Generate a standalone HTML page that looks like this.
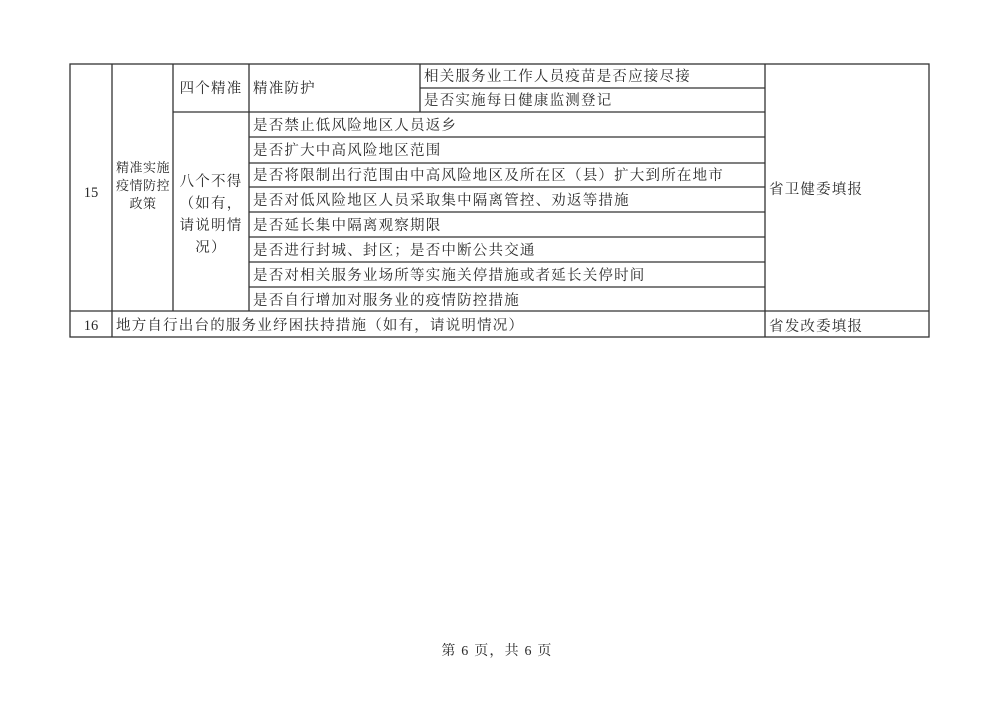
<!DOCTYPE html>
<html><head><meta charset="utf-8"><style>
html,body{margin:0;padding:0;background:#fff;width:1000px;height:707px;overflow:hidden}
svg text{font-family:"Liberation Serif","Noto Serif CJK SC","Noto Sans CJK SC",serif;font-size:14.5px;fill:#2a2a2a;letter-spacing:1.2px}
</style></head><body>
<svg width="1000" height="707" viewBox="0 0 1000 707" xmlns="http://www.w3.org/2000/svg">
<g stroke="#333" stroke-width="1.3" fill="none">
<rect x="70" y="64" width="859" height="273"/>
<line x1="70" y1="311" x2="929" y2="311"/>
<line x1="112" y1="64" x2="112" y2="337"/>
<line x1="173" y1="64" x2="173" y2="311"/>
<line x1="249" y1="64" x2="249" y2="311"/>
<line x1="765" y1="64" x2="765" y2="337"/>
<line x1="420" y1="64" x2="420" y2="112"/>
<line x1="420" y1="88" x2="765" y2="88"/>
<line x1="173" y1="112" x2="765" y2="112"/>
<line x1="249" y1="137" x2="765" y2="137"/>
<line x1="249" y1="163" x2="765" y2="163"/>
<line x1="249" y1="187" x2="765" y2="187"/>
<line x1="249" y1="212" x2="765" y2="212"/>
<line x1="249" y1="237" x2="765" y2="237"/>
<line x1="249" y1="262" x2="765" y2="262"/>
<line x1="249" y1="287" x2="765" y2="287"/>
</g>
<text x="91" y="197" text-anchor="middle" style="letter-spacing:0">15</text>
<text x="91" y="330" text-anchor="middle" style="letter-spacing:0">16</text>
<text x="143" y="172" text-anchor="middle" style="font-size:13px;letter-spacing:0.5px">精准实施</text>
<text x="143" y="190" text-anchor="middle" style="font-size:13px;letter-spacing:0.5px">疫情防控</text>
<text x="143" y="208" text-anchor="middle" style="font-size:13px;letter-spacing:0.5px">政策</text>
<text x="211" y="93" text-anchor="middle">四个精准</text>
<text x="211" y="186" text-anchor="middle">八个不得</text>
<text x="211" y="208" text-anchor="middle">（如有，</text>
<text x="211" y="230" text-anchor="middle">请说明情</text>
<text x="211" y="252" text-anchor="middle">况）</text>
<text x="253" y="93">精准防护</text>
<text x="424" y="81">相关服务业工作人员疫苗是否应接尽接</text>
<text x="424" y="105">是否实施每日健康监测登记</text>
<text x="253" y="130">是否禁止低风险地区人员返乡</text>
<text x="253" y="155">是否扩大中高风险地区范围</text>
<text x="253" y="180">是否将限制出行范围由中高风险地区及所在区（县）扩大到所在地市</text>
<text x="253" y="205">是否对低风险地区人员采取集中隔离管控、劝返等措施</text>
<text x="253" y="230">是否延长集中隔离观察期限</text>
<text x="253" y="255">是否进行封城、封区；是否中断公共交通</text>
<text x="253" y="280">是否对相关服务业场所等实施关停措施或者延长关停时间</text>
<text x="253" y="305">是否自行增加对服务业的疫情防控措施</text>
<text x="116" y="330">地方自行出台的服务业纾困扶持措施（如有，请说明情况）</text>
<text x="769" y="194">省卫健委填报</text>
<text x="769" y="331">省发改委填报</text>
<text x="497" y="655" text-anchor="middle" style="font-size:14px" xml:space="preserve">第 6 页，共 6 页</text>
</svg>
</body></html>
